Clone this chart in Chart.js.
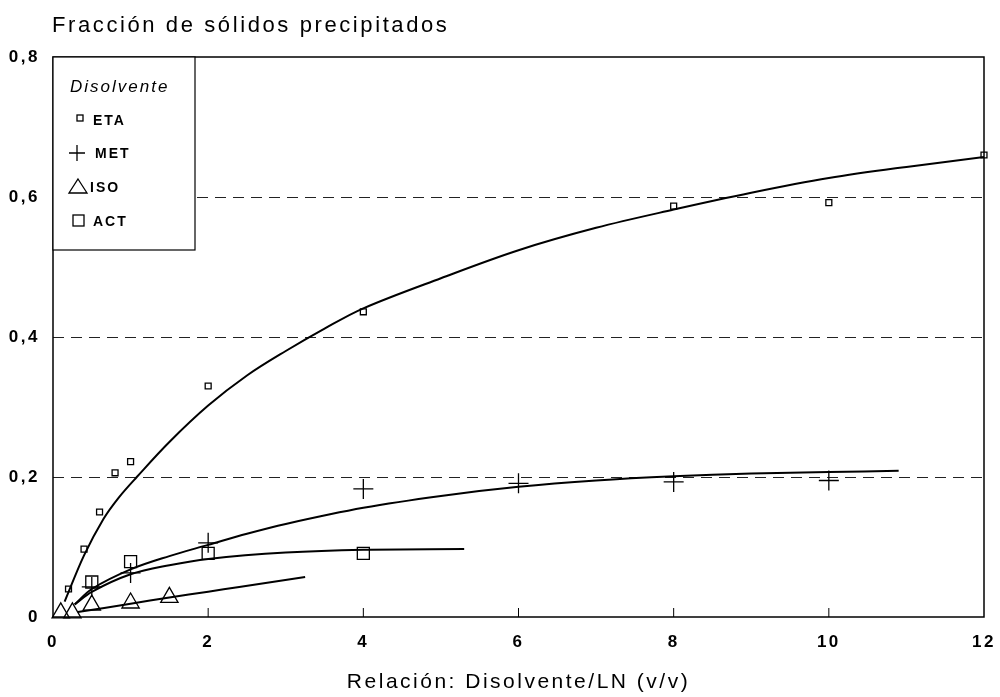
<!DOCTYPE html>
<html>
<head>
<meta charset="utf-8">
<script src="https://cdn.jsdelivr.net/npm/chart.js@4.4.1/dist/chart.umd.min.js"></script>
<style>
  html, body { margin: 0; background: #fff; }
  #wrap { width: 1000px; height: 697px; }
</style>
</head>
<body>
<div id="wrap"><canvas id="chart"></canvas></div>
<script>
// measured points
const etaX = [0.2, 0.4, 0.6, 0.8, 1, 2, 4, 8, 10, 12];
const etaY = [0.04, 0.097, 0.15, 0.206, 0.222, 0.33, 0.436, 0.587, 0.592, 0.66];
const metX = [0.5, 1, 2, 4, 6, 8, 10];
const metY = [0.043, 0.063, 0.106, 0.183, 0.191, 0.193, 0.195];
const isoX = [0.1, 0.25, 0.5, 1, 1.5];
const isoY = [0.006, 0.006, 0.017, 0.02, 0.028];
const actX = [0.5, 1, 2, 4];
const actY = [0.05, 0.079, 0.091, 0.091];

// fitted curves
const etaFitX = [0.15, 0.4, 0.65, 0.85, 1.08, 1.5, 2, 2.5, 3, 3.5, 4, 5, 6, 7, 8, 9, 10, 11, 12];
const etaFitY = [0.022, 0.088, 0.14, 0.171, 0.20, 0.25, 0.302, 0.345, 0.38, 0.412, 0.441, 0.484, 0.524, 0.556, 0.582, 0.606, 0.627, 0.643, 0.657];
const metFitX = [0.28, 0.5, 1, 1.5, 2, 2.5, 3, 4, 5, 6, 7, 8, 9, 10, 10.9];
const metFitY = [0.018, 0.04, 0.068, 0.087, 0.103, 0.119, 0.133, 0.156, 0.173, 0.186, 0.195, 0.201, 0.205, 0.207, 0.209];
const actFitX = [0.28, 0.5, 1, 1.5, 2, 3, 4, 5.3];
const actFitY = [0.018, 0.036, 0.061, 0.074, 0.083, 0.092, 0.096, 0.097];
const isoFitX = [0.32, 1, 1.5, 2, 2.4, 3.25];
const isoFitY = [0.007, 0.019, 0.028, 0.036, 0.043, 0.057];

const yTickLabels = ['0', '0,2', '0,4', '0,6', '0,8'];
const seriesNames = ['ETA', 'MET', 'ISO', 'ACT'];

const FONT = '"Liberation Sans", Arial, sans-serif';
const zip = (xs, ys) => xs.map((x, i) => ({ x: x, y: ys[i] }));

function curve(xs, ys) {
  return {
    type: 'line',
    data: zip(xs, ys),
    borderColor: '#000',
    borderWidth: 2,
    pointRadius: 0,
    fill: false,
    showLine: true,
    tension: 0.35
  };
}

function marks(label, xs, ys, style, radius) {
  return {
    label: label,
    data: zip(xs, ys),
    pointStyle: style,
    pointRadius: radius,
    pointBorderColor: '#000',
    pointBackgroundColor: 'rgba(0,0,0,0)',
    pointBorderWidth: 1.3,
    showLine: false,
    clip: false
  };
}

const spacing = {
  id: 'spacing',
  beforeLayout(chart) { chart.ctx.letterSpacing = '2.5px'; },
  beforeDraw(chart) { chart.ctx.letterSpacing = '2.5px'; }
};

const frame = {
  id: 'frame',
  afterDatasetsDraw(chart) {
    const ctx = chart.ctx;
    const a = chart.chartArea;
    const xs = chart.scales.x;
    ctx.save();
    ctx.strokeStyle = '#000';
    ctx.lineWidth = 1.5;
    ctx.strokeRect(a.left, a.top, a.right - a.left, a.bottom - a.top);

    // small inner ticks on the x axis
    ctx.lineWidth = 1;
    [2, 4, 6, 8, 10].forEach(v => {
      const px = xs.getPixelForValue(v);
      ctx.beginPath();
      ctx.moveTo(px, a.bottom);
      ctx.lineTo(px, a.bottom - 9);
      ctx.stroke();
    });

    // legend box
    const L = a.left, T = a.top, W = 142, H = 193;
    ctx.fillStyle = '#fff';
    ctx.fillRect(L, T, W, H);
    ctx.lineWidth = 1.2;
    ctx.strokeRect(L, T, W, H);

    ctx.fillStyle = '#000';
    ctx.letterSpacing = '2px';
    ctx.textBaseline = 'middle';
    ctx.textAlign = 'left';
    ctx.font = 'italic 17px ' + FONT;
    ctx.fillText('Disolvente', L + 17, T + 30);

    ctx.font = 'bold 14px ' + FONT;
    const rows = [T + 63, T + 96, T + 130, T + 164];
    ctx.lineWidth = 1.3;
    // ETA: small square
    ctx.strokeRect(L + 24, rows[0] - 5, 6, 6);
    // MET: cross
    ctx.beginPath();
    ctx.moveTo(L + 16, rows[1]); ctx.lineTo(L + 32, rows[1]);
    ctx.moveTo(L + 24, rows[1] - 8); ctx.lineTo(L + 24, rows[1] + 8);
    ctx.stroke();
    // ISO: triangle
    ctx.beginPath();
    ctx.moveTo(L + 25, rows[2] - 8);
    ctx.lineTo(L + 34, rows[2] + 6);
    ctx.lineTo(L + 16, rows[2] + 6);
    ctx.closePath();
    ctx.stroke();
    // ACT: square
    ctx.strokeRect(L + 20, rows[3] - 6, 11, 11);

    const textX = [L + 40, L + 42, L + 37, L + 40];
    seriesNames.forEach((n, i) => ctx.fillText(n, textX[i], rows[i] + 1));

    // heading above the y axis
    ctx.letterSpacing = '2.6px';
    ctx.font = '22px ' + FONT;
    ctx.textBaseline = 'alphabetic';
    ctx.fillText('Fracción de sólidos precipitados', 52, 32);
    ctx.restore();
  }
};

new Chart(document.getElementById('chart'), {
  type: 'scatter',
  data: {
    datasets: [
      marks('ETA', etaX, etaY, 'rect', 4.2),
      marks('MET', metX, metY, 'cross', 10),
      marks('ISO', isoX, isoY, 'triangle', 10),
      marks('ACT', actX, actY, 'rect', 8.5),
      curve(etaFitX, etaFitY),
      curve(metFitX, metFitY),
      curve(actFitX, actFitY),
      curve(isoFitX, isoFitY)
    ]
  },
  options: {
    responsive: true,
    maintainAspectRatio: false,
    animation: false,
    layout: { padding: { top: 57, right: 16, bottom: 2, left: 0 } },
    plugins: {
      legend: { display: false },
      tooltip: { enabled: false },
      title: { display: false }
    },
    scales: {
      x: {
        type: 'linear',
        min: 0,
        max: 12,
        ticks: {
          stepSize: 2,
          color: '#000',
          padding: 3,
          font: { family: FONT, size: 17, weight: 'bold' }
        },
        grid: {
          display: true,
          drawOnChartArea: false,
          drawTicks: true,
          tickLength: 12,
          color: 'rgba(0,0,0,0)',
          tickColor: 'rgba(0,0,0,0)'
        },
        border: { display: false },
        title: {
          display: true,
          text: 'Relación: Disolvente/LN (v/v)',
          color: '#000',
          font: { family: FONT, size: 21 },
          padding: { top: 0, bottom: 0 }
        },
        afterFit(scale) { scale.height = 78; }
      },
      y: {
        type: 'linear',
        min: 0,
        max: 0.8,
        ticks: {
          stepSize: 0.2,
          color: '#000',
          padding: 13,
          font: { family: FONT, size: 17, weight: 'bold' },
          callback: (v, i) => yTickLabels[i]
        },
        grid: {
          drawTicks: false,
          lineWidth: 1,
          color: c => (c.tick && c.tick.value > 0.01 && c.tick.value < 0.79) ? '#222' : 'rgba(0,0,0,0)'
        },
        border: { display: false, dash: [11, 7] },
        afterFit(scale) { scale.width = 53; }
      }
    }
  },
  plugins: [spacing, frame]
});
</script>
</body>
</html>
